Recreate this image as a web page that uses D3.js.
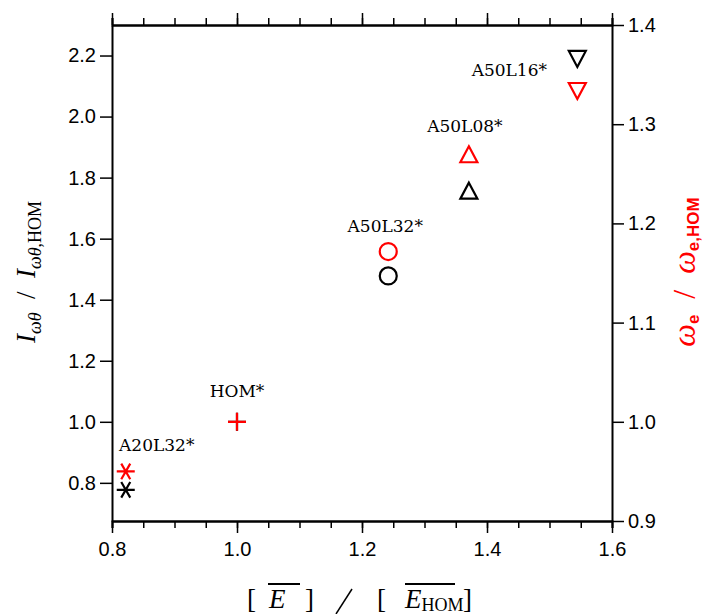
<!DOCTYPE html>
<html>
<head>
<meta charset="utf-8">
<script src="https://cdn.jsdelivr.net/npm/d3@7"></script>
<style>
  body { margin: 0; background: #fff; }
  svg { display: block; }
  .tick text { font-family: "Liberation Sans", Arial, sans-serif; font-size: 20px; fill: #000; }
  .case-label { font-family: "DejaVu Serif", "Liberation Serif", serif; font-size: 17px; }
</style>
</head>
<body>
<svg id="chart"></svg>
<script>
// ---- data ----
var cases = ["A20L32*", "HOM*", "A50L32*", "A50L08*", "A50L16*"];
var eRatio = [0.822, 1.0, 1.242, 1.371, 1.5445];     // [E] / [E_HOM]  (x)
var iRatio = [0.777, 1.0, 1.478, 1.754, 2.192];      // I_wθ / I_wθ,HOM (left axis, black)
var wRatio = [0.950, 1.0, 1.1716, 1.2687, 1.3345];   // w_e / w_e,HOM   (right axis, red)
var markers = ["asterisk", "plus", "circle", "triangle", "triangleDown"];

var xTicks = [0.8, 1.0, 1.2, 1.4, 1.6];
var xMinorTicks = d3.range(0.8, 1.6001, 0.05);
var yLeftTicks = [0.8, 1.0, 1.2, 1.4, 1.6, 1.8, 2.0, 2.2];
var yRightTicks = [0.9, 1.0, 1.1, 1.2, 1.3, 1.4];

// label placement, pixels relative to the upper marker of each case
var labelOffset = {
  "A20L32*": [31, -20],
  "HOM*": [0, -25],
  "A50L32*": [-3, -20],
  "A50L08*": [-4, -23],
  "A50L16*": [-68, 18]
};

var W = 707, H = 614;
var box = {left: 112, right: 612, top: 25, bottom: 521};

var svg = d3.select("#chart").attr("width", W).attr("height", H);

var x = d3.scaleLinear().domain([0.8, 1.6]).range([box.left, box.right]);
var yL = d3.scaleLinear().domain([0.675, 2.3]).range([box.bottom, box.top]);
var yR = d3.scaleLinear().domain([0.9, 1.4]).range([box.bottom, box.top]);

//axes
function styleAxis(g) {
  g.select(".domain").attr("stroke", "#000").attr("stroke-width", 2);
  g.selectAll(".tick line").attr("stroke", "#000").attr("stroke-width", 1.5);
}

// minor x ticks (top & bottom)
svg.append("g")
    .attr("transform", "translate(0," + box.bottom + ")")
    .call(d3.axisBottom(x).tickValues(xMinorTicks).tickSize(7).tickFormat(""))
    .call(styleAxis);
svg.append("g")
    .attr("transform", "translate(0," + box.top + ")")
    .call(d3.axisTop(x).tickValues(xMinorTicks).tickSize(7).tickFormat(""))
    .call(styleAxis);

svg.append("g")
    .attr("transform", "translate(0," + box.bottom + ")")
    .call(d3.axisBottom(x).tickValues(xTicks).tickSize(12).tickSizeOuter(0).tickPadding(9)
        .tickFormat(d3.format(".1f")))
    .call(styleAxis);

svg.append("g")
    .attr("transform", "translate(0," + box.top + ")")
    .call(d3.axisTop(x).tickValues(xTicks).tickSize(12).tickSizeOuter(0).tickFormat(""))
    .call(styleAxis);

svg.append("g")
    .attr("transform", "translate(" + box.left + ",0)")
    .call(d3.axisLeft(yL).tickValues(yLeftTicks).tickSize(12).tickSizeOuter(0).tickPadding(4)
        .tickFormat(d3.format(".1f")))
    .call(styleAxis);

svg.append("g")
    .attr("transform", "translate(" + box.right + ",0)")
    .call(d3.axisRight(yR).tickValues(yRightTicks).tickSize(12).tickSizeOuter(0).tickPadding(4)
        .tickFormat(d3.format(".1f")))
    .call(styleAxis);

// marker shapes
function markerPath(type) {
  var r = 8.5;
  if (type === "circle") {
    return "M" + r + ",0A" + r + "," + r + " 0 1,1 " + (-r) + ",0A" + r + "," + r + " 0 1,1 " + r + ",0Z";
  }
  if (type === "plus") {
    return "M-9,0L9,0M0,-9L0,9";
  }
  if (type === "asterisk") {
    var p = "";
    [0, 60, 120].forEach(function (a) {
      var c = Math.cos(a * Math.PI / 180) * 9, s = Math.sin(a * Math.PI / 180) * 9;
      p += "M" + (-c) + "," + (-s) + "L" + c + "," + s;
    });
    return p;
  }
  if (type === "triangle") {
    return "M0,-9L8.5,7L-8.5,7Z";
  }
  if (type === "triangleDown") {
    return "M0,9L8.5,-7L-8.5,-7Z";
  }
}

var pts = cases.map(function (c, i) {
  return {name: c, e: eRatio[i], iw: iRatio[i], w: wRatio[i], m: markers[i]};
});

// black: left axis
svg.selectAll(".pt-black")
    .data(pts)
    .enter().append("path")
    .attr("class", "pt-black")
    .attr("transform", function (d) { return "translate(" + x(d.e) + "," + yL(d.iw) + ")"; })
    .attr("d", function (d) { return markerPath(d.m); })
    .attr("fill", "none")
    .attr("stroke", "#000")
    .attr("stroke-width", 2.2);

// red: right axis
svg.selectAll(".pt-red")
    .data(pts)
    .enter().append("path")
    .attr("class", "pt-red")
    .attr("transform", function (d) { return "translate(" + x(d.e) + "," + yR(d.w) + ")"; })
    .attr("d", function (d) { return markerPath(d.m); })
    .attr("fill", "none")
    .attr("stroke", "#ff0000")
    .attr("stroke-width", 2.2);

// case labels
svg.selectAll(".case-label")
    .data(pts)
    .enter().append("text")
    .attr("class", "case-label")
    .attr("text-anchor", "middle")
    .attr("x", function (d) { return x(d.e) + labelOffset[d.name][0]; })
    .attr("y", function (d) {
      var top = Math.min(yL(d.iw), yR(d.w));
      return top + labelOffset[d.name][1];
    })
    .text(function (d) { return d.name; });

// x axis title  [ E ] / [ E_HOM ]
var serif = '"Liberation Serif", "Times New Roman", serif';
var xt = svg.append("g").attr("font-family", serif).attr("font-size", 27).attr("fill", "#000");
xt.append("text").attr("x", 247).attr("y", 608).text("[");
xt.append("text").attr("x", 269).attr("y", 608).attr("font-style", "italic").text("E");
xt.append("text").attr("x", 305).attr("y", 608).text("]");
xt.append("text").attr("x", 377).attr("y", 608).text("[");
var eh = xt.append("text").attr("x", 405).attr("y", 608);
eh.append("tspan").attr("font-style", "italic").text("E");
eh.append("tspan").attr("font-size", 18).attr("dy", 3).text("HOM");
xt.append("text").attr("x", 463).attr("y", 608).text("]");
xt.append("line").attr("x1", 268).attr("x2", 300).attr("y1", 584).attr("y2", 584)
    .attr("stroke", "#000").attr("stroke-width", 2);
xt.append("line").attr("x1", 405).attr("x2", 455).attr("y1", 584).attr("y2", 584)
    .attr("stroke", "#000").attr("stroke-width", 2);
xt.append("line").attr("x1", 336).attr("x2", 352).attr("y1", 614).attr("y2", 589)
    .attr("stroke", "#000").attr("stroke-width", 1.5);

// left y title  I_wθ / I_wθ,HOM
var yt = svg.append("text")
    .attr("transform", "translate(35,272)rotate(-90)")
    .attr("text-anchor", "middle")
    .attr("font-family", serif)
    .attr("font-size", 27)
    .attr("fill", "#000");
yt.append("tspan").attr("font-style", "italic").text("I");
yt.append("tspan").attr("font-size", 18).attr("dy", 6).attr("font-style", "italic").text("ωθ");
yt.append("tspan").attr("dy", -6).text("\u2002/\u2002");
yt.append("tspan").attr("font-style", "italic").text("I");
yt.append("tspan").attr("font-size", 18).attr("dy", 6).attr("font-style", "italic").text("ωθ");
yt.append("tspan").attr("font-size", 18).text(",HOM");

// right y title  w_e / w_e,HOM
var sans = '"Liberation Sans", Arial, sans-serif';
var rt = svg.append("text")
    .attr("transform", "translate(695,272)rotate(-90)")
    .attr("text-anchor", "middle")
    .attr("font-family", serif)
    .attr("font-size", 32)
    .attr("fill", "#ff0000");
rt.append("tspan").attr("font-style", "italic").text("ω");
rt.append("tspan").attr("font-family", sans).attr("font-weight", "bold").attr("font-size", 17).attr("dy", 4).text("e");
rt.append("tspan").attr("dy", -4).text("\u2002/\u2002");
rt.append("tspan").attr("font-style", "italic").text("ω");
rt.append("tspan").attr("font-family", sans).attr("font-weight", "bold").attr("font-size", 17).attr("dy", 4).text("e,HOM");
</script>
</body>
</html>
